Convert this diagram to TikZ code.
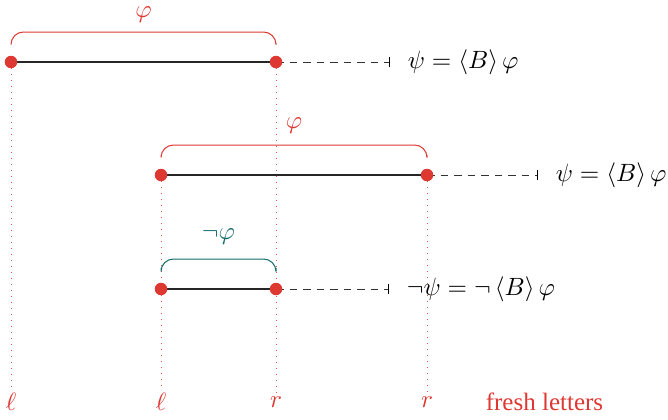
\documentclass[tikz,border=0pt]{standalone}
\usepackage{fontspec}
\setmainfont{Liberation Serif}
\usepackage{amsmath,amssymb}
\usetikzlibrary{positioning, calc}
\definecolor{freshRed}{RGB}{221, 56, 50}
\definecolor{negTeal}{RGB}{22, 108, 108}

\begin{document}
\begin{tikzpicture}[
    x=0.4pt, y=-0.4pt,
    node distance=4pt,
    dot/.style={circle, fill=freshRed, inner sep=0pt, minimum size=5pt},
    seg/.style={black!85, semithick},
    guide/.style={freshRed!85, dotted, thin},
    ext/.style={black!80, dash pattern=on 3pt off 2.4pt},
    bracket/.style={rounded corners=5pt, thin},
    letter/.style={text=freshRed, inner sep=1pt}
  ]
    \useasboundingbox (0,0) rectangle (668,420);

    % Interval end points
    \coordinate (L1) at (11,62);
    \coordinate (R1) at (276,62);
    \coordinate (L2) at (161,175);
    \coordinate (R2) at (427,175);
    \coordinate (L3) at (161,289);
    \coordinate (R3) at (276,289);
    \coordinate (T1) at (389,62);
    \coordinate (T2) at (537,175);
    \coordinate (T3) at (388,289);

    % Fresh letters at the bottom
    \node[letter] (ell1) at (11,402) {$\ell$};
    \node[letter] (ell2) at (161,402) {$\ell$};
    \node[letter] (r1) at (276,402) {$r$};
    \node[letter] (r2) at (427,402) {$r$};
    \node[letter, right=47pt of r2.center, anchor=center] (fresh) {fresh letters};

    \draw[guide] (L1) -- (ell1);
    \draw[guide] (R1) -- (r1);
    \draw[guide] (L2) -- (ell2);
    \draw[guide] (R2) -- (r2);

    % Top row
    \draw[seg] (L1) -- (R1);
    \draw[ext] (R1) -- (T1);
    \draw ($(T1)+(0,-5)$) -- ($(T1)+(0,5)$);
    \node[dot] at (L1) {};
    \node[dot] at (R1) {};
    \draw[freshRed, bracket] ($(L1)+(0,-19)$) |- ($(L1)!0.5!(R1)+(0,-30)$) -| ($(R1)+(0,-19)$);
    \node[text=freshRed] (phi1) at ($(L1)!0.5!(R1)+(0,-47)$) {$\varphi$};
    \node[right=of T1] (f1) {$\psi = \langle B \rangle\, \varphi$};

    % Middle row
    \draw[seg] (L2) -- (R2);
    \draw[ext] (R2) -- (T2);
    \draw ($(T2)+(0,-5)$) -- ($(T2)+(0,5)$);
    \node[dot] at (L2) {};
    \node[dot] at (R2) {};
    \draw[freshRed, bracket] ($(L2)+(0,-20)$) |- ($(L2)!0.5!(R2)+(0,-30)$) -| ($(R2)+(0,-20)$);
    \node[text=freshRed] (phi2) at ($(L2)!0.5!(R2)+(0,-49)$) {$\varphi$};
    \node[right=of T2] (f2) {$\psi = \langle B \rangle\, \varphi$};

    % Bottom row
    \draw[seg] (L3) -- (R3);
    \draw[ext] (R3) -- (T3);
    \draw ($(T3)+(0,-5)$) -- ($(T3)+(0,5)$);
    \node[dot] at (L3) {};
    \node[dot] at (R3) {};
    \draw[negTeal, bracket] ($(L3)+(0,-21)$) |- ($(L3)!0.5!(R3)+(0,-30)$) -| ($(R3)+(0,-21)$);
    \node[text=negTeal] (phi3) at ($(L3)!0.5!(R3)+(0,-52)$) {$\neg\varphi$};
    \node[right=of T3] (f3) {$\neg\psi = \neg\, \langle B \rangle\, \varphi$};
  \end{tikzpicture}
\end{document}
